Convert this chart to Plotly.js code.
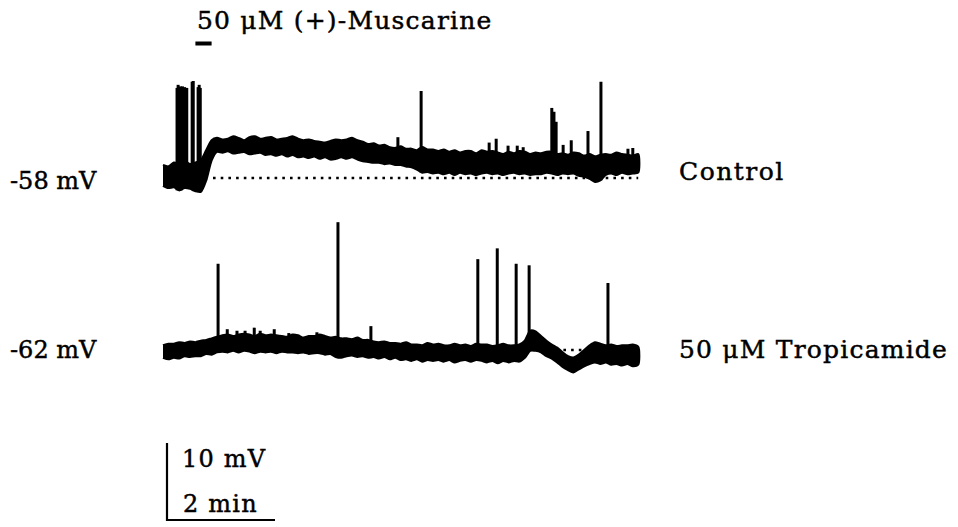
<!DOCTYPE html>
<html>
<head>
<meta charset="utf-8">
<script src="https://cdn.plot.ly/plotly-3.0.1.min.js"></script>
<style>
  html, body { margin: 0; padding: 0; background: #ffffff; }
  #chart { width: 958px; height: 527px; }
  /* slightly heavier lettering for the labels */
  .annotation-text { stroke: #000000; stroke-width: 0.45px; }
</style>
</head>
<body>
<div id="chart"></div>
<script>
// Sample times (min) at which the upper and lower edges of each noisy trace were read
const sampleMin = [
  0.0, 0.1, 0.2, 0.3, 0.4, 0.5, 0.6, 0.7, 0.8, 0.9,
  1.0, 1.1, 1.2, 1.3, 1.4, 1.5, 1.6, 1.7, 1.8, 1.9,
  2.0, 2.1, 2.2, 2.3, 2.4, 2.5, 2.6, 2.7, 2.8, 2.9,
  3.0, 3.1, 3.2, 3.3, 3.4, 3.5, 3.6, 3.7, 3.8, 3.9,
  4.0, 4.1, 4.2, 4.3, 4.4, 4.5, 4.6, 4.7, 4.8, 4.9,
  5.0, 5.1, 5.2, 5.3, 5.4, 5.5, 5.6, 5.7, 5.8, 5.9,
  6.0, 6.1, 6.2, 6.3, 6.4, 6.5, 6.6, 6.7, 6.8, 6.9,
  7.0, 7.1, 7.2, 7.3, 7.4, 7.5, 7.6, 7.7, 7.8, 7.9,
  8.0, 8.1, 8.2, 8.3, 8.4, 8.5, 8.6, 8.7, 8.8
];

// Control recording: upper / lower edge of the membrane potential band (mV)
const ctrlTop = [
  -56.3, -56.5, -56.0, -56.1, -55.8, -56.2, -56.0, -55.7, -54.4, -53.1,
  -52.8, -53.0, -52.9, -52.6, -52.8, -53.1, -52.7, -52.6, -52.9, -52.8,
  -52.7, -53.0, -52.9, -52.8, -52.6, -52.9, -53.1, -53.0, -53.2, -53.3,
  -53.4, -53.2, -53.0, -53.1, -53.0, -52.8, -53.1, -53.3, -53.6, -53.5,
  -53.8, -53.7, -54.0, -54.1, -53.9, -54.2, -54.2, -54.4, -54.0, -54.3,
  -54.3, -54.5, -54.3, -54.6, -54.4, -54.7, -54.5, -54.5, -54.8, -54.4,
  -54.6, -54.5, -54.7, -54.9, -54.6, -54.8, -54.5, -54.6, -54.9, -54.7,
  -54.8, -54.6, -54.6, -54.9, -54.8, -55.0, -54.7, -54.8, -55.1, -54.9,
  -55.2, -55.0, -54.9, -55.0, -54.7, -54.9, -55.0, -55.1, -54.9
];
const ctrlBot = [
  -59.0, -59.3, -59.2, -59.6, -59.3, -59.4, -59.7, -59.8, -58.3, -55.7,
  -54.6, -54.7, -54.5, -54.8, -54.7, -54.6, -54.9, -54.8, -54.7, -55.0,
  -54.9, -55.1, -54.9, -55.2, -55.0, -55.3, -55.2, -55.4, -55.2, -55.5,
  -55.3, -55.6, -55.5, -55.3, -55.5, -55.3, -55.6, -55.8, -55.9, -56.0,
  -56.0, -56.2, -56.1, -56.3, -56.3, -56.5, -56.6, -56.9, -57.3, -57.2,
  -57.4, -57.3, -57.5, -57.3, -57.6, -57.3, -57.5, -57.4, -57.6, -57.4,
  -57.3, -57.5, -57.4, -57.6, -57.4, -57.3, -57.5, -57.4, -57.6, -57.5,
  -57.5, -57.3, -57.4, -57.6, -57.4, -57.5, -57.4, -57.7, -57.8, -58.1,
  -58.5, -58.3, -57.6, -57.4, -57.6, -57.3, -57.5, -57.4, -57.3
];
// Control recording: action potentials (time in min, peak in mV)
const ctrlSpikeMin = [
  0.26, 0.28, 0.30, 0.32, 0.34, 0.36, 0.38, 0.40, 0.42, 0.44,
  0.54, 0.56, 0.65, 0.67, 0.69,
  4.35, 4.78, 6.04, 6.17, 6.39, 6.56, 6.67,
  7.20, 7.24, 7.28, 7.41, 7.56, 7.87, 8.11, 8.61, 8.70
];
const ctrlSpikePeak = [
  -46.3, -45.9, -46.6, -46.1, -46.8, -46.1, -46.4, -46.2, -47.0, -46.3,
  -45.5, -45.4, -46.2, -45.9, -46.3,
  -52.7, -46.7, -53.4, -52.9, -53.8, -53.8, -54.0,
  -48.9, -49.4, -50.7, -53.7, -53.1, -51.9, -45.5, -54.2, -54.1
];

// Tropicamide recording: upper / lower edge of the membrane potential band (mV)
const tropTop = [
  -61.4, -61.2, -61.2, -61.0, -61.1, -60.9, -61.0, -60.8, -60.7, -60.5,
  -60.3, -60.1, -60.0, -60.2, -60.0, -59.9, -60.0, -60.2, -59.9, -60.1,
  -60.0, -60.1, -60.2, -60.3, -60.0, -60.1, -60.4, -60.2, -60.2, -60.0,
  -60.2, -60.4, -60.3, -60.5, -60.5, -60.6, -60.4, -60.7, -60.7, -60.9,
  -61.0, -60.9, -61.1, -61.1, -61.2, -61.0, -61.3, -61.3, -61.4, -61.1,
  -61.3, -61.2, -61.4, -61.4, -61.2, -61.4, -61.3, -61.5, -61.2, -61.3,
  -61.3, -61.5, -61.4, -61.2, -61.4, -61.4, -61.3, -60.8, -59.5, -59.6,
  -60.2, -60.8, -61.3, -61.7, -62.3, -62.8, -63.0, -62.6, -62.0, -61.4,
  -61.0, -61.2, -61.4, -61.3, -61.5, -61.4, -61.4, -61.3, -61.6
];
const tropBot = [
  -63.0, -63.2, -63.0, -63.1, -62.8, -62.9, -62.8, -62.8, -62.5, -62.6,
  -62.3, -62.2, -62.3, -62.1, -62.3, -62.1, -62.2, -62.4, -62.2, -62.3,
  -62.2, -62.4, -62.2, -62.3, -62.3, -62.4, -62.3, -62.5, -62.4, -62.4,
  -62.6, -62.5, -62.9, -63.0, -62.8, -62.7, -62.9, -62.8, -63.0, -62.9,
  -63.1, -62.9, -63.2, -63.0, -63.3, -63.2, -63.4, -63.2, -63.5, -63.3,
  -63.4, -63.3, -63.5, -63.3, -63.6, -63.4, -63.3, -63.5, -63.3, -63.4,
  -63.6, -63.4, -63.7, -63.4, -63.6, -63.4, -63.5, -63.0, -62.1, -62.1,
  -62.3, -62.8, -63.1, -63.6, -64.2, -64.6, -64.9, -64.5, -64.1, -63.8,
  -63.6, -63.8, -63.6, -63.9, -63.8, -64.0, -63.8, -64.1, -63.9
];
// Tropicamide recording: action potentials and small events (time in min, peak in mV)
const tropSpikeMin = [
  1.02, 1.19, 1.37, 1.52, 1.69, 1.80, 2.06, 2.33, 2.85,
  3.24, 3.85, 5.83, 6.19, 6.54, 6.78, 8.24
];
const tropSpikePeak = [
  -50.8, -59.3, -59.5, -59.5, -59.1, -59.5, -59.3, -59.8, -59.7,
  -45.4, -58.9, -50.2, -48.8, -50.8, -51.0, -53.3
];

// Resting potentials, drug application window and calibration bar
const restMv = [-58, -62];
const muscarineMin = [0.6, 0.9];
const scaleBarMv = 10;
const scaleBarMin = 2;

const traceLabels = ['Control', '50 μM Tropicamide'];
const restLabels = ['-58 mV', '-62 mV'];
const drugLabel = '50 μM (+)-Muscarine';
const scaleLabels = ['10 mV', '2 min'];

// ---- page geometry (pixels) ----
const W = 958, H = 527;
const pxPerMin = 54, pxPerMv = 7.7;
const startPx = 163;              // where t = 0 sits horizontally
const restPx = [178, 350];        // vertical position of each resting potential
const INK = '#000000';
const FONT = 'DejaVu Serif';

function yRange(rest, px) {
  return [rest - (H - px) / pxPerMv, rest + px / pxPerMv];
}

function bandTrace(top, bot, yax) {
  const back = sampleMin.slice().reverse();
  return {
    type: 'scatter', mode: 'lines', yaxis: yax, hoverinfo: 'skip',
    x: sampleMin.concat(back),
    y: top.concat(bot.slice().reverse()),
    fill: 'toself', fillcolor: INK,
    line: { color: INK, width: 2.2, shape: 'spline', smoothing: 0.7 }
  };
}

function nearestIndex(t) {
  let best = 0;
  for (let i = 1; i < sampleMin.length; i++) {
    if (Math.abs(sampleMin[i] - t) < Math.abs(sampleMin[best] - t)) best = i;
  }
  return best;
}

function spikeTrace(times, peaks, bot, yax) {
  const x = [], y = [];
  times.forEach((t, k) => {
    x.push(t, t, null);
    y.push(bot[nearestIndex(t)], peaks[k], null);
  });
  return {
    type: 'scatter', mode: 'lines', yaxis: yax, hoverinfo: 'skip',
    x: x, y: y, connectgaps: false,
    line: { color: INK, width: 3 }
  };
}

function restLine(t0, rest, yax) {
  return {
    type: 'scatter', mode: 'lines', yaxis: yax, hoverinfo: 'skip',
    x: [t0, sampleMin[sampleMin.length - 1]], y: [rest, rest],
    line: { color: INK, width: 2.6, dash: '2.6px,5.1px' }
  };
}

const muscarineBarMv = restMv[0] + (restPx[0] - 43.5) / pxPerMv;
const scaleX0 = (167 - startPx) / pxPerMin;
const scaleY0 = restMv[1] - (520 - restPx[1]) / pxPerMv;

const data = [
  restLine((213 - startPx) / pxPerMin, restMv[0], 'y'),
  restLine(0, restMv[1], 'y2'),
  bandTrace(ctrlTop, ctrlBot, 'y'),
  spikeTrace(ctrlSpikeMin, ctrlSpikePeak, ctrlBot, 'y'),
  bandTrace(tropTop, tropBot, 'y2'),
  spikeTrace(tropSpikeMin, tropSpikePeak, tropBot, 'y2'),
  { // muscarine application bar
    type: 'scatter', mode: 'lines', yaxis: 'y', hoverinfo: 'skip',
    x: muscarineMin, y: [muscarineBarMv, muscarineBarMv],
    line: { color: INK, width: 4 }
  },
  { // calibration bar
    type: 'scatter', mode: 'lines', yaxis: 'y2', hoverinfo: 'skip',
    x: [scaleX0, scaleX0, scaleX0 + scaleBarMin],
    y: [scaleY0 + scaleBarMv, scaleY0, scaleY0],
    line: { color: INK, width: 2.2 }
  }
];

function label(text, leftPx, centerPx, size, spacing) {
  return {
    xref: 'paper', yref: 'paper',
    x: leftPx / W, y: 1 - centerPx / H,
    xanchor: 'left', yanchor: 'middle',
    showarrow: false,
    text: '<span style="letter-spacing:' + spacing + 'px">' + text + '</span>',
    font: { family: FONT, size: size, color: INK }
  };
}

const layout = {
  width: W, height: H,
  margin: { l: 0, r: 0, t: 0, b: 0, pad: 0 },
  paper_bgcolor: '#ffffff', plot_bgcolor: '#ffffff',
  showlegend: false,
  xaxis: { range: [-startPx / pxPerMin, (W - startPx) / pxPerMin], visible: false, fixedrange: true },
  yaxis: { range: yRange(restMv[0], restPx[0]), visible: false, fixedrange: true },
  yaxis2: { range: yRange(restMv[1], restPx[1]), overlaying: 'y', visible: false, fixedrange: true },
  annotations: [
    label(drugLabel, 195, 21, 25, 1.2),
    label(restLabels[0], 8, 181, 24, 0),
    label(restLabels[1], 8, 350, 24, 0),
    label(traceLabels[0], 677, 171, 25, 1.5),
    label(traceLabels[1], 677, 349, 25, 1.2),
    label(scaleLabels[0], 180, 459, 24, 1.2),
    label(scaleLabels[1], 181, 504, 24, 1.2)
  ]
};

Plotly.newPlot('chart', data, layout, { staticPlot: true, displayModeBar: false });
</script>
</body>
</html>
